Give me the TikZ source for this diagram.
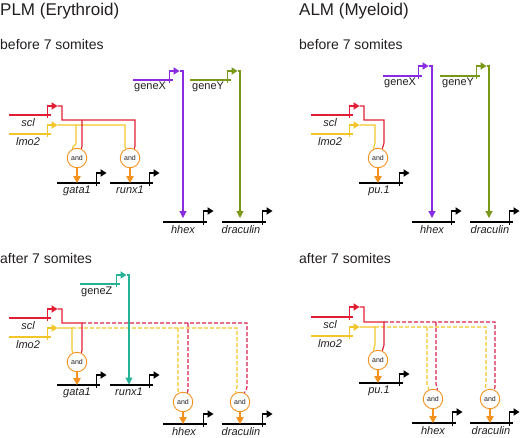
\documentclass[tikz,border=0pt]{standalone}
\usepackage{fontspec}
\setmainfont{Liberation Sans}
\usetikzlibrary{arrows.meta}
\definecolor{cred}{RGB}{226,30,52}
\definecolor{cdred}{RGB}{214,36,80}
\definecolor{cylw}{RGB}{242,198,40}
\definecolor{corg}{RGB}{245,146,30}
\definecolor{cpur}{RGB}{138,43,226}
\definecolor{cgrn}{RGB}{122,152,24}
\definecolor{cteal}{RGB}{38,178,150}
\definecolor{ctxt}{RGB}{35,31,32}
% gene symbol: name, colour, x start, x end, y of line, y of promoter arrow
\newcommand\gsym[6]{%
  \coordinate (#1-a) at (#3,#5);
  \coordinate (#1-b) at (#4,#5);
  \coordinate (#1-t) at ({#4-3.5},{#5+3});
  \coordinate (#1-p) at ({#4-3.5},#6);
  \coordinate (#1-tip) at ({#4+6.5},#6);
  \draw[draw=#2,ln] (#1-a) -- (#1-b);
  \draw[draw=#2,ln] (#1-t) -- (#1-p) -- ({#4+0.5},#6);
  \fill[fill=#2] ({#4+0.5},{#6-3.8}) -- (#1-tip) -- ({#4+0.5},{#6+3.8}) -- cycle;
}
\begin{document}
\begin{tikzpicture}[x=1pt,y=-1pt,
  ln/.style={line width=1.15pt},
  glab/.style={font=\fontsize{11}{12}\selectfont\itshape, text=ctxt, anchor=north, inner sep=0pt},
  ulab/.style={font=\fontsize{11}{12}\selectfont, text=ctxt, anchor=north west, inner sep=0pt},
  gate/.style={circle, draw=corg, line width=0.9pt, minimum size=19.5pt, inner sep=0pt, fill=white, text=ctxt, font=\fontsize{7}{8}\selectfont},
  tarr/.style={ln, -{Triangle[length=7pt,width=7pt]}},
  oarr/.style={corg, line width=1.15pt, -{Triangle[length=7pt,width=7.5pt]}},
  dsh/.style={dash pattern=on 4pt off 2pt},
  ttl/.style={font=\fontsize{17}{20}\selectfont, text=ctxt, anchor=base west, inner sep=0pt},
  sub/.style={font=\fontsize{14}{16}\selectfont, text=ctxt, anchor=base west, inner sep=0pt}]
\useasboundingbox (0,0) rectangle (520,437);

% titles
\node[ttl] (t1) at (0,15) {PLM (Erythroid)};
\node[ttl] (t2) at (299,15) {ALM (Myeloid)};
\node[sub] (s1) at (0,49) {before 7 somites};
\node[sub] (s2) at (299,49) {before 7 somites};
\node[sub] (s3) at (0,263) {after 7 somites};
\node[sub] (s4) at (299,263) {after 7 somites};

% ================= Panel A : PLM before =================
\node[gate] (ga1) at (77,158) {and};
\node[gate] (ga2) at (130,158) {and};
\gsym{Ascl}{cred}{9}{51}{115}{106}
\gsym{Almo}{cylw}{9}{51}{134}{125}
\node[glab] (Asclt) at (28,118) {scl};
\node[glab] (Almot) at (28,137) {lmo2};
\draw[cylw,ln] (Almo-tip) -- (125,125) -- (125,143) to[out=-90,in=115] (ga2.115);
\draw[cylw,ln] (76,125) -- (76,143) to[out=-90,in=115] (ga1.115);
\draw[cred,ln] (Ascl-tip) -- (62,106) -- (62,120) -- (135,120) -- (135,143) to[out=-90,in=65] (ga2.65);
\draw[cred,ln] (82,120) -- (82,143) to[out=-90,in=65] (ga1.65);
\gsym{Agata}{black}{57}{100}{183}{173}
\gsym{Arunx}{black}{110}{153}{183}{173}
\node[glab] (Agatat) at (77,186) {gata1};
\node[glab] (Arunxt) at (130,186) {runx1};
\draw[oarr] (ga1.south) -- (Agata-a -| ga1.south);
\draw[oarr] (ga2.south) -- (Arunx-a -| ga2.south);
\gsym{Agx}{cpur}{133}{173}{80}{71}
\gsym{Agy}{cgrn}{190}{231}{80}{71}
\node[ulab] (Agxt) at (134,82) {geneX};
\node[ulab] (Agyt) at (192,82) {geneY};
\gsym{Ahh}{black}{163}{207}{222}{211}
\gsym{Adr}{black}{222}{266}{222}{211}
\node[glab] (Ahht) at (183,225) {hhex};
\node[glab] (Adrt) at (241,225) {draculin};
\draw[cpur,tarr] (Agx-tip) -- (183,71) -- (183,218);
\draw[cgrn,tarr] (Agy-tip) -- (240,71) -- (240,218);

% ================= Panel B : ALM before =================
\node[gate] (gb1) at (378,158) {and};
\gsym{Bscl}{cred}{311}{353}{115}{106}
\gsym{Blmo}{cylw}{311}{353}{134}{125}
\node[glab] (Bsclt) at (330,118) {scl};
\node[glab] (Blmot) at (330,137) {lmo2};
\draw[cylw,ln] (Blmo-tip) -- (375,125) -- (375,143) to[out=-90,in=115] (gb1.115);
\draw[cred,ln] (Bscl-tip) -- (364,106) -- (364,120) -- (384,120) -- (384,143) to[out=-90,in=65] (gb1.65);
\gsym{Bpu}{black}{359}{403}{183}{173}
\node[glab] (Bput) at (379,186) {pu.1};
\draw[oarr] (gb1.south) -- (Bpu-a -| gb1.south);
\gsym{Bgx}{cpur}{383}{422}{76}{66}
\gsym{Bgy}{cgrn}{440}{480}{76}{66}
\node[ulab] (Bgxt) at (384,78) {geneX};
\node[ulab] (Bgyt) at (442,78) {geneY};
\gsym{Bhh}{black}{412}{455}{222}{211}
\gsym{Bdr}{black}{470}{513}{222}{211}
\node[glab] (Bhht) at (432,225) {hhex};
\node[glab] (Bdrt) at (490,225) {draculin};
\draw[cpur,tarr] (Bgx-tip) -- (432,66) -- (432,218);
\draw[cgrn,tarr] (Bgy-tip) -- (489,66) -- (489,218);

% ================= Panel C : PLM after =================
\node[gate] (gc1) at (77,362) {and};
\node[gate] (gc2) at (183,402) {and};
\node[gate] (gc3) at (240,402) {and};
\gsym{Cgz}{cteal}{80}{120}{284}{275}
\node[ulab] (Cgzt) at (81,287) {geneZ};
\gsym{Cscl}{cred}{9}{51}{318}{309}
\gsym{Clmo}{cylw}{9}{51}{337}{328}
\node[glab] (Csclt) at (28,321) {scl};
\node[glab] (Clmot) at (28,340) {lmo2};
\draw[cylw,ln] (Clmo-tip) -- (72,328) -- (72,347) to[out=-90,in=115] (gc1.115);
\draw[cylw,ln,dsh] (72,328) -- (237,328) -- (237,387) to[out=-90,in=115] (gc3.115);
\draw[cylw,ln,dsh] (178,328) -- (178,387) to[out=-90,in=115] (gc2.115);
\draw[cred,ln] (Cscl-tip) -- (62,309) -- (62,323) -- (82,323) -- (82,347) to[out=-90,in=65] (gc1.65);
\draw[cdred,ln,dsh] (82,323) -- (247,323) -- (247,387) to[out=-90,in=65] (gc3.65);
\draw[cdred,ln,dsh] (188,323) -- (188,387) to[out=-90,in=65] (gc2.65);
\gsym{Cgata}{black}{57}{100}{385}{375}
\gsym{Crunx}{black}{110}{153}{385}{375}
\node[glab] (Cgatat) at (77,388) {gata1};
\node[glab] (Crunxt) at (129,388) {runx1};
\draw[cteal,tarr] (Cgz-tip) -- (129,275) -- (129,384.5);
\draw[oarr] (gc1.south) -- (Cgata-a -| gc1.south);
\gsym{Chh}{black}{163}{207}{424}{414}
\gsym{Cdr}{black}{222}{266}{424}{414}
\node[glab] (Chht) at (184,427) {hhex};
\node[glab] (Cdrt) at (241,427) {draculin};
\draw[oarr] (gc2.south) -- (Chh-a -| gc2.south);
\draw[oarr] (gc3.south) -- (Cdr-a -| gc3.south);

% ================= Panel D : ALM after =================
\node[gate] (gd1) at (378,360) {and};
\node[gate] (gd2) at (433,399) {and};
\node[gate] (gd3) at (490,399) {and};
\gsym{Dscl}{cred}{311}{353}{317}{307}
\gsym{Dlmo}{cylw}{311}{353}{336}{327}
\node[glab] (Dsclt) at (330,320) {scl};
\node[glab] (Dlmot) at (330,339) {lmo2};
\draw[cylw,ln] (Dlmo-tip) -- (375,327) -- (375,345) to[out=-90,in=115] (gd1.115);
\draw[cylw,ln,dsh] (375,327) -- (486,327) -- (486,384) to[out=-90,in=115] (gd3.115);
\draw[cylw,ln,dsh] (427,327) -- (427,384) to[out=-90,in=115] (gd2.115);
\draw[cred,ln] (Dscl-tip) -- (364,307) -- (364,322) -- (384,322) -- (384,345) to[out=-90,in=65] (gd1.65);
\draw[cdred,ln,dsh] (384,322) -- (495,322) -- (495,384) to[out=-90,in=65] (gd3.65);
\draw[cdred,ln,dsh] (436,322) -- (436,384) to[out=-90,in=65] (gd2.65);
\gsym{Dpu}{black}{359}{403}{383}{374}
\node[glab] (Dput) at (379,386) {pu.1};
\draw[oarr] (gd1.south) -- (Dpu-a -| gd1.south);
\gsym{Dhh}{black}{412}{456}{423}{412}
\gsym{Ddr}{black}{470}{513}{423}{412}
\node[glab] (Dhht) at (433,426) {hhex};
\node[glab] (Ddrt) at (491,426) {draculin};
\draw[oarr] (gd2.south) -- (Dhh-a -| gd2.south);
\draw[oarr] (gd3.south) -- (Ddr-a -| gd3.south);
\end{tikzpicture}
\end{document}
